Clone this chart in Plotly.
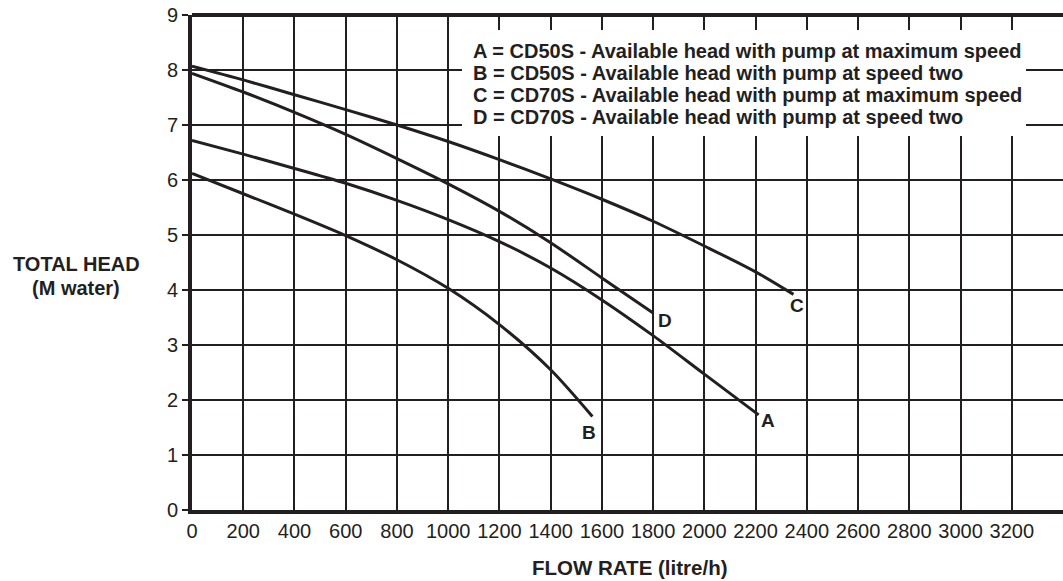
import plotly.graph_objects as go

# Curve data (flow litre/h, head m water)
a_flow = [0, 200, 400, 600, 800, 1000, 1200, 1400, 1600, 1800, 2000, 2212]
a_head = [6.72, 6.47, 6.21, 5.94, 5.63, 5.28, 4.88, 4.40, 3.82, 3.17, 2.47, 1.73]
b_flow = [0, 200, 400, 600, 800, 1000, 1200, 1400, 1563]
b_head = [6.12, 5.75, 5.38, 4.99, 4.55, 4.03, 3.37, 2.55, 1.70]
c_flow = [0, 200, 400, 600, 800, 1000, 1200, 1400, 1600, 1800, 2000, 2200, 2348]
c_head = [8.07, 7.82, 7.55, 7.28, 7.0, 6.70, 6.37, 6.02, 5.65, 5.25, 4.80, 4.33, 3.92]
d_flow = [0, 200, 400, 600, 800, 1000, 1200, 1400, 1600, 1800]
d_head = [7.94, 7.60, 7.23, 6.83, 6.39, 5.93, 5.43, 4.86, 4.22, 3.58]

curve_labels = ["A", "B", "C", "D"]
label_flow = [2250, 1550, 2362, 1846]
label_head = [1.62, 1.41, 3.71, 3.44]

legend_lines = [
    "A = CD50S - Available head with pump at maximum speed",
    "B = CD50S - Available head with pump at speed two",
    "C = CD70S - Available head with pump at maximum speed",
    "D = CD70S - Available head with pump at speed two",
]

x_ticks = list(range(0, 3201, 200))
y_ticks = list(range(0, 10))

FONT = "Liberation Sans, Arial, sans-serif"
INK = "#231f20"

# plot-area pixel geometry
plot_l, plot_r, plot_t, plot_b = 192, 1063, 15, 510
W, H = 1063, 581


def px(x):
    return (x - plot_l) / (plot_r - plot_l)


def py(y):
    return (plot_b - y) / (plot_b - plot_t)


fig = go.Figure()
for fx, fy in [(a_flow, a_head), (b_flow, b_head), (c_flow, c_head), (d_flow, d_head)]:
    fig.add_trace(go.Scatter(x=fx, y=fy, mode="lines",
                             line=dict(color=INK, width=3, shape="spline", smoothing=0.8),
                             showlegend=False, hoverinfo="skip"))

annotations = []
for lab, fx, fy in zip(curve_labels, label_flow, label_head):
    annotations.append(dict(x=fx, y=fy, xref="x", yref="y", text="<b>%s</b>" % lab, showarrow=False,
                            xanchor="center", yanchor="middle",
                            font=dict(family=FONT, size=19, color=INK)))

for i, t in enumerate(legend_lines):
    annotations.append(dict(x=px(471), y=py(50.7 + i * 22.2), xref="paper", yref="paper",
                            text="<b>%s</b>" % t, showarrow=False,
                            xanchor="left", yanchor="middle",
                            font=dict(family=FONT, size=20, color=INK)))

annotations.append(dict(x=px(76), y=py(264), xref="paper", yref="paper",
                        text="<b>TOTAL HEAD</b>", showarrow=False,
                        xanchor="center", yanchor="middle",
                        font=dict(family=FONT, size=20, color=INK)))
annotations.append(dict(x=px(76), y=py(288), xref="paper", yref="paper",
                        text="<b>(M water)</b>", showarrow=False,
                        xanchor="center", yanchor="middle",
                        font=dict(family=FONT, size=20, color=INK)))
annotations.append(dict(x=px(629), y=py(567), xref="paper", yref="paper",
                        text="<b>FLOW RATE (litre/h)</b>", showarrow=False,
                        xanchor="center", yanchor="middle",
                        font=dict(family=FONT, size=20.5, color=INK)))

shapes = [
    dict(type="rect", xref="paper", yref="paper",
         x0=px(462), x1=px(1026), y0=py(136), y1=py(30),
         fillcolor="white", line=dict(width=0), layer="above"),
    dict(type="line", xref="paper", yref="paper", x0=0, x1=1, y0=1, y1=1,
         line=dict(color=INK, width=4)),
]

fig.update_layout(
    width=W, height=H,
    margin=dict(l=plot_l, r=W - plot_r, t=plot_t, b=H - plot_b),
    paper_bgcolor="white", plot_bgcolor="white",
    font=dict(family=FONT, color=INK),
    annotations=annotations, shapes=shapes,
    xaxis=dict(range=[0, 3400], tickvals=x_ticks, ticktext=[str(v) for v in x_ticks],
               showgrid=True, gridcolor=INK, gridwidth=2, zeroline=False,
               showline=True, linecolor=INK, linewidth=4,
               ticks="", tickfont=dict(family=FONT, size=20, color=INK)),
    yaxis=dict(range=[0, 9], tickvals=y_ticks, ticktext=[str(v) for v in y_ticks],
               showgrid=True, gridcolor=INK, gridwidth=2, zeroline=False,
               showline=True, linecolor=INK, linewidth=4,
               ticks="outside", ticklen=6, tickwidth=1.5, tickcolor=INK,
               tickfont=dict(family=FONT, size=20, color=INK)),
)

fig.write_html("out.html", config={"displayModeBar": False},
               post_script="document.body.style.margin='0';document.body.style.overflow='hidden';")
